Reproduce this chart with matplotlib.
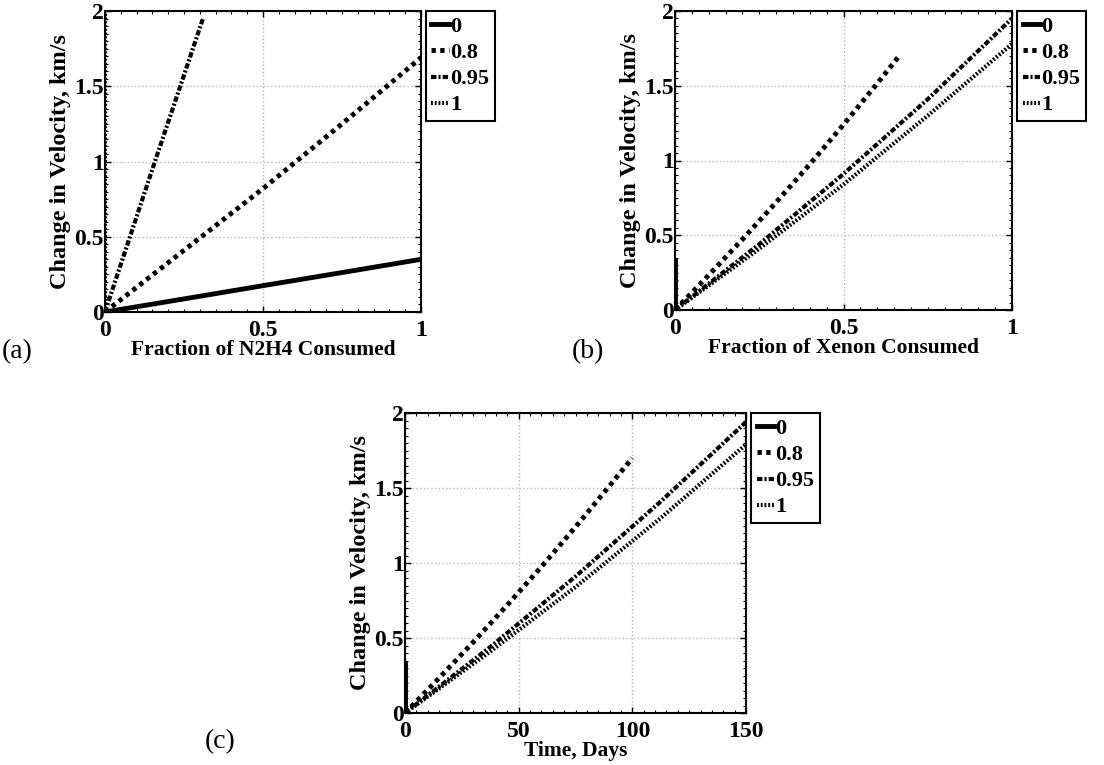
import matplotlib
matplotlib.use('Agg')
from matplotlib import pyplot as plt
from matplotlib.ticker import AutoMinorLocator

plt.rcParams['font.family'] = ['Liberation Serif', 'DejaVu Serif']
plt.rcParams['font.weight'] = 'bold'

labels = ['0', '0.8', '0.95', '1']

# panel (a): fraction of N2H4 consumed
a0_x = [0, 0.25, 0.5, 0.75, 1.0]
a0_y = [0, 0.087, 0.175, 0.262, 0.35]
a08_x = [0, 0.25, 0.5, 0.75, 1.0]
a08_y = [0, 0.41, 0.82, 1.25, 1.69]
a095_x = [0, 0.079, 0.158, 0.235, 0.31]
a095_y = [0, 0.5, 1.0, 1.48, 1.95]
a1_x = [0, 0]
a1_y = [0, 2.0]

# panel (b): fraction of xenon consumed
b0_x = [0, 0]
b0_y = [0, 0.33]
b08_x = [0, 0.1, 0.2, 0.3, 0.4, 0.5, 0.6, 0.662]
b08_y = [0, 0.233, 0.472, 0.72, 0.975, 1.24, 1.515, 1.69]
b095_x = [0, 0.25, 0.5, 0.75, 1.0]
b095_y = [0, 0.44, 0.91, 1.41, 1.95]
b1_x = [0, 0.25, 0.5, 0.75, 1.0]
b1_y = [0, 0.41, 0.84, 1.30, 1.78]

# panel (c): time in days
c0_x = [0, 0]
c0_y = [0, 0.33]
c08_x = [0, 15, 30, 45, 60, 75, 90, 100]
c08_y = [0, 0.233, 0.472, 0.72, 0.975, 1.24, 1.515, 1.70]
c095_x = [0, 37.5, 75, 112.5, 150]
c095_y = [0, 0.44, 0.91, 1.41, 1.94]
c1_x = [0, 37.5, 75, 112.5, 150]
c1_y = [0, 0.41, 0.84, 1.30, 1.79]

styles = [
    dict(linestyle='-', lw=3.5),
    dict(linestyle=(0, (0.9, 0.9)), lw=3.5),
    dict(linestyle=(0, (1.3, 0.5, 0.5, 0.5)), lw=3),
    dict(linestyle=(0, (0.45, 0.45)), lw=3),
]


def setup(ax, series, xmax, xticks, xlabel):
    for (xs, ys), lab, st in zip(series, labels, styles):
        ax.plot(xs, ys, color='black', label=lab, dash_capstyle='butt', **st)
    ax.set_xlim(0, xmax)
    ax.set_ylim(0, 2)
    ax.set_xticks(xticks)
    ax.set_yticks([0, 0.5, 1, 1.5, 2])
    ax.set_yticklabels(['0', '0.5', '1', '1.5', '2'])
    ax.xaxis.set_minor_locator(AutoMinorLocator(10))
    ax.yaxis.set_minor_locator(AutoMinorLocator(10))
    ax.tick_params(which='both', direction='in', top=True, right=True, labelsize=17)
    ax.tick_params(axis='y', pad=1)
    ax.tick_params(axis='x', pad=6)
    ax.tick_params(which='major', length=4, width=1)
    ax.tick_params(which='minor', length=2, width=0.8)
    ax.grid(True, which='major', color='#b8b8b8', linestyle=':', linewidth=1)
    for s in ax.spines.values():
        s.set_linewidth(1.5)
    ax.set_xlabel(xlabel, fontsize=15.5, fontweight='bold', labelpad=-1)
    ax.set_ylabel('Change in Velocity, km/s', fontsize=17.5, fontweight='bold', labelpad=2)
    leg = ax.legend(loc='upper left', bbox_to_anchor=(1.015, 1.0), borderaxespad=0,
                    fontsize=16, handlelength=0.8, handletextpad=0.05,
                    borderpad=0.25, labelspacing=0.25, fancybox=False,
                    framealpha=1, edgecolor='black')
    leg.get_frame().set_linewidth(1.5)
    for t in leg.get_texts():
        t.set_fontweight('bold')


fig = plt.figure(figsize=(11.04, 7.65), dpi=100)

ax_a = fig.add_axes([105 / 1104, 1 - 312 / 765, 316 / 1104, 301 / 765])
setup(ax_a, [(a0_x, a0_y), (a08_x, a08_y), (a095_x, a095_y), (a1_x, a1_y)],
      1, [0, 0.5, 1], 'Fraction of N2H4 Consumed')
ax_a.set_xticklabels(['0', '0.5', '1'])

ax_b = fig.add_axes([675 / 1104, 1 - 310 / 765, 337 / 1104, 299 / 765])
setup(ax_b, [(b0_x, b0_y), (b08_x, b08_y), (b095_x, b095_y), (b1_x, b1_y)],
      1, [0, 0.5, 1], 'Fraction of Xenon Consumed')
ax_b.set_xticklabels(['0', '0.5', '1'])

ax_c = fig.add_axes([405 / 1104, 1 - 713 / 765, 341 / 1104, 300 / 765])
setup(ax_c, [(c0_x, c0_y), (c08_x, c08_y), (c095_x, c095_y), (c1_x, c1_y)],
      150, [0, 50, 100, 150], 'Time, Days')

fig.text(2 / 1104, 1 - 352 / 765, '(a)', fontsize=20, fontweight='normal', va='center', ha='left')
fig.text(572 / 1104, 1 - 352 / 765, '(b)', fontsize=20, fontweight='normal', va='center', ha='left')
fig.text(205 / 1104, 1 - 742 / 765, '(c)', fontsize=20, fontweight='normal', va='center', ha='left')

fig.savefig('out.png', dpi=100)
